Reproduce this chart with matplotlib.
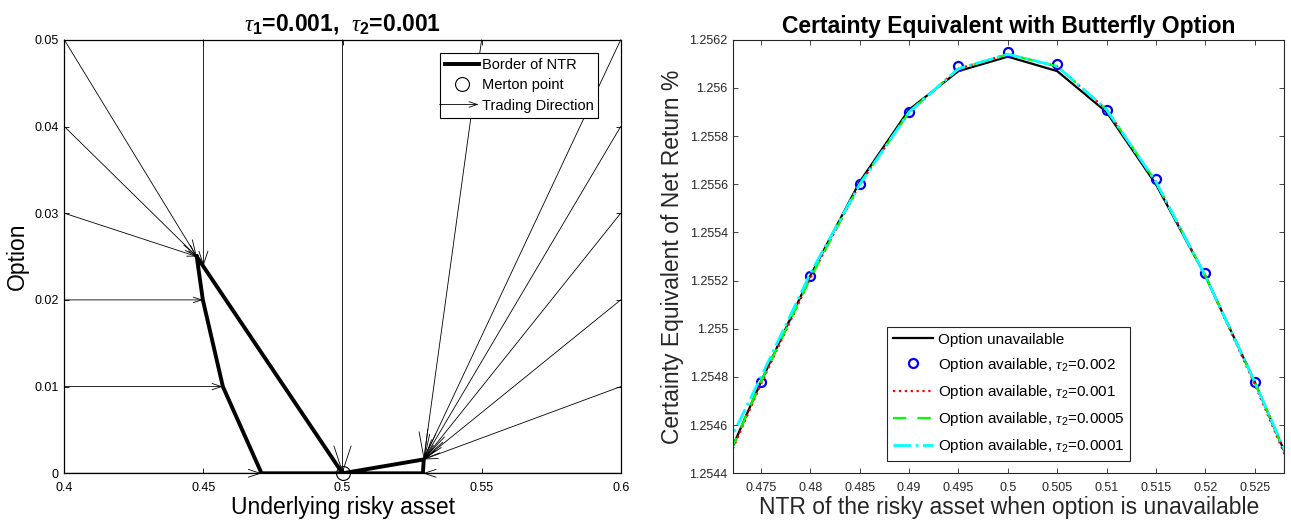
import numpy as np
import matplotlib
matplotlib.use('Agg')
import matplotlib.pyplot as plt
from matplotlib import ticker
from matplotlib.lines import Line2D
from matplotlib.patches import FancyArrowPatch
from matplotlib.legend_handler import HandlerPatch

plt.rcParams['font.family'] = ['Liberation Sans', 'DejaVu Sans']
plt.rcParams['mathtext.fontset'] = 'custom'
plt.rcParams['mathtext.rm'] = 'Liberation Sans'
plt.rcParams['mathtext.it'] = 'Liberation Serif:italic'
plt.rcParams['mathtext.bf'] = 'Liberation Sans:bold'

# ---- left panel: no-trade region (NTR) border, Merton point, trading directions
ntr_x = [0.4476, 0.5000, 0.5292, 0.5289, 0.4709, 0.4570, 0.4498, 0.4476]
ntr_y = [0.0250, 0.0000, 0.0016, 0.0000, 0.0000, 0.0100, 0.0200, 0.0250]
merton = (0.5, 0.0)

# trading directions: start point -> end point on the border
arrow_start = [(0.40, 0.05), (0.40, 0.04), (0.40, 0.03), (0.40, 0.02), (0.40, 0.01), (0.40, 0.00),
               (0.45, 0.05), (0.50, 0.05),
               (0.55, 0.05), (0.60, 0.05), (0.60, 0.04), (0.60, 0.03), (0.60, 0.02), (0.60, 0.01),
               (0.60, 0.00)]
arrow_end = [(0.4476, 0.025), (0.4476, 0.025), (0.4476, 0.025), (0.4498, 0.02), (0.4570, 0.01), (0.4709, 0.0),
             (0.45, 0.0239), (0.50, 0.0),
             (0.5292, 0.0016), (0.5292, 0.0016), (0.5292, 0.0016), (0.5292, 0.0016), (0.5292, 0.0016),
             (0.5292, 0.0016), (0.5289, 0.0)]

# ---- right panel: certainty equivalent
ntr_grid = [0.470, 0.475, 0.480, 0.485, 0.490, 0.495, 0.500, 0.505, 0.510, 0.515, 0.520, 0.525, 0.530]
ce_unavail = [1.25431, 1.25478, 1.25522, 1.25561, 1.25591, 1.25607, 1.25613, 1.25607, 1.25590, 1.25560, 1.25522, 1.25478, 1.25430]
ce_t0002 = [1.25431, 1.25478, 1.25522, 1.25560, 1.25590, 1.25609, 1.25615, 1.25610, 1.25591, 1.25562, 1.25523, 1.25478, 1.25431]
ce_t0001 = [1.25430, 1.25477, 1.25521, 1.25560, 1.25590, 1.25608, 1.25614, 1.25609, 1.25591, 1.25561, 1.25522, 1.25477, 1.25429]
ce_t00005 = [1.25431, 1.25478, 1.25521, 1.25560, 1.25590, 1.25608, 1.25614, 1.25609, 1.25591, 1.25561, 1.25522, 1.25478, 1.25430]
ce_t00001 = [1.25438, 1.25480, 1.25523, 1.25560, 1.25590, 1.25608, 1.25614, 1.25609, 1.25591, 1.25561, 1.25522, 1.25478, 1.25431]


class ArrowHandler(HandlerPatch):
    def create_artists(self, legend, orig_handle, xdescent, ydescent, width, height, fontsize, trans):
        y = height / 2 - ydescent
        a = FancyArrowPatch((-xdescent - 4, y), (-xdescent + width, y),
                            arrowstyle='->,head_length=6,head_width=2', mutation_scale=1,
                            lw=0.6, color='k', shrinkA=0, shrinkB=0)
        a.set_transform(trans)
        return [a]


fig = plt.figure(figsize=(12.91, 5.29), dpi=100)
W, H = 1291.0, 529.0
ax1 = fig.add_axes([64.3 / W, (H - 473.3) / H, (620.7 - 64.3) / W, 433.5 / H])
ax2 = fig.add_axes([733.3 / W, (H - 473.3) / H, (1284.3 - 733.3) / W, 433.5 / H])

fmt = ticker.FuncFormatter(lambda v, p: f'{v:g}')

# left panel
ax1.set_xlim(0.4, 0.6)
ax1.set_ylim(0, 0.05)
ax1.plot(ntr_x, ntr_y, color='k', lw=2.8, zorder=4, solid_joinstyle='miter')
ax1.plot(*merton, marker='o', ms=10, mfc='none', mec='k', mew=0.8, ls='none', zorder=5, clip_on=False)

for p0, p1 in zip(arrow_start, arrow_end):
    d = ax1.transData.transform([p0, p1])
    L = np.hypot(*(d[1] - d[0]))
    hl = max(0.06 * L, 7) * 0.72
    ax1.annotate('', xy=p1, xytext=p0, annotation_clip=False,
                 arrowprops=dict(arrowstyle=f'->,head_length={hl:.2f},head_width={hl * 0.33:.2f}',
                                 mutation_scale=1, lw=0.6, color='k', shrinkA=0, shrinkB=0))

ax1.set_xticks([0.4, 0.45, 0.5, 0.55, 0.6])
ax1.set_yticks([0, 0.01, 0.02, 0.03, 0.04, 0.05])
ax1.xaxis.set_major_formatter(fmt)
ax1.yaxis.set_major_formatter(fmt)
ax1.tick_params(direction='in', top=True, right=True, length=3.6, width=0.6, labelsize=9, pad=4)
ax1.tick_params(axis='x', pad=6)
for s in ax1.spines.values():
    s.set_linewidth(0.9)
ax1.set_xlabel('Underlying risky asset', fontsize=16.5, labelpad=2)
ax1.set_ylabel('Option', fontsize=16.5, labelpad=4)
ax1.set_title(r'$\tau_\mathbf{1}$=0.001,  $\tau_\mathbf{2}$=0.001', fontsize=16.5, fontweight='bold', pad=7)

h_border = Line2D([], [], color='k', lw=2.8)
h_merton = Line2D([], [], marker='o', ms=10, mfc='none', mec='k', mew=0.8, ls='none')
h_arrow = FancyArrowPatch((0, 0), (1, 0))
leg1 = ax1.legend([h_border, h_merton, h_arrow], ['Border of NTR', 'Merton point', 'Trading Direction'],
                  handler_map={FancyArrowPatch: ArrowHandler()},
                  loc='upper right', bbox_to_anchor=(0.96, 0.969), borderaxespad=0,
                  fontsize=10.5, fancybox=False, framealpha=1, edgecolor='k',
                  handlelength=2.3, handletextpad=0.2, labelspacing=0.42, borderpad=0.35)
leg1.get_frame().set_linewidth(0.8)

# right panel
gray = '#262626'
ax2.plot(ntr_grid, ce_unavail, color='k', lw=1.6, label='Option unavailable')
ax2.plot(ntr_grid, ce_t0002, ls='none', marker='o', ms=6.5, mfc='none', mec='#0000ff', mew=1.6,
         label=r'Option available, $\tau_2$=0.002')
ax2.plot(ntr_grid, ce_t0001, color='#ff0000', ls=':', lw=1.6, label=r'Option available, $\tau_2$=0.001')
ax2.plot(ntr_grid, ce_t00005, color='#00ff00', ls=(0, (6, 5)), lw=1.6, label=r'Option available, $\tau_2$=0.0005')
ax2.plot(ntr_grid, ce_t00001, color='#00ffff', ls='-.', lw=2.0, label=r'Option available, $\tau_2$=0.0001')
ax2.set_xlim(0.4722, 0.5280)
ax2.set_ylim(1.2544, 1.2562)
ax2.set_xticks(np.arange(0.475, 0.5251, 0.005))
ax2.set_yticks(np.arange(1.2544, 1.25621, 0.0002))
ax2.xaxis.set_major_formatter(fmt)
ax2.yaxis.set_major_formatter(fmt)
ax2.tick_params(direction='in', top=True, right=True, length=3.6, width=0.6, labelsize=9, pad=4,
                colors=gray, labelcolor=gray)
ax2.tick_params(axis='x', pad=6)
for s in ax2.spines.values():
    s.set_linewidth(0.8)
    s.set_color(gray)
ax2.set_xlabel('NTR of the risky asset when option is unavailable', fontsize=16.5, labelpad=2, color=gray)
ax2.set_ylabel('Certainty Equivalent of Net Return %', fontsize=16.5, labelpad=4, color=gray)
ax2.set_title('Certainty Equivalent with Butterfly Option', fontsize=16.5, fontweight='bold', pad=5)
leg2 = ax2.legend(loc='center', bbox_to_anchor=(0.5, 0.183), fontsize=11, fancybox=False, framealpha=1,
                  edgecolor=gray, handlelength=2.6, handletextpad=0.3, labelspacing=0.6, borderpad=0.4)
leg2.get_frame().set_linewidth(0.8)

fig.savefig('out.png', dpi=100)
